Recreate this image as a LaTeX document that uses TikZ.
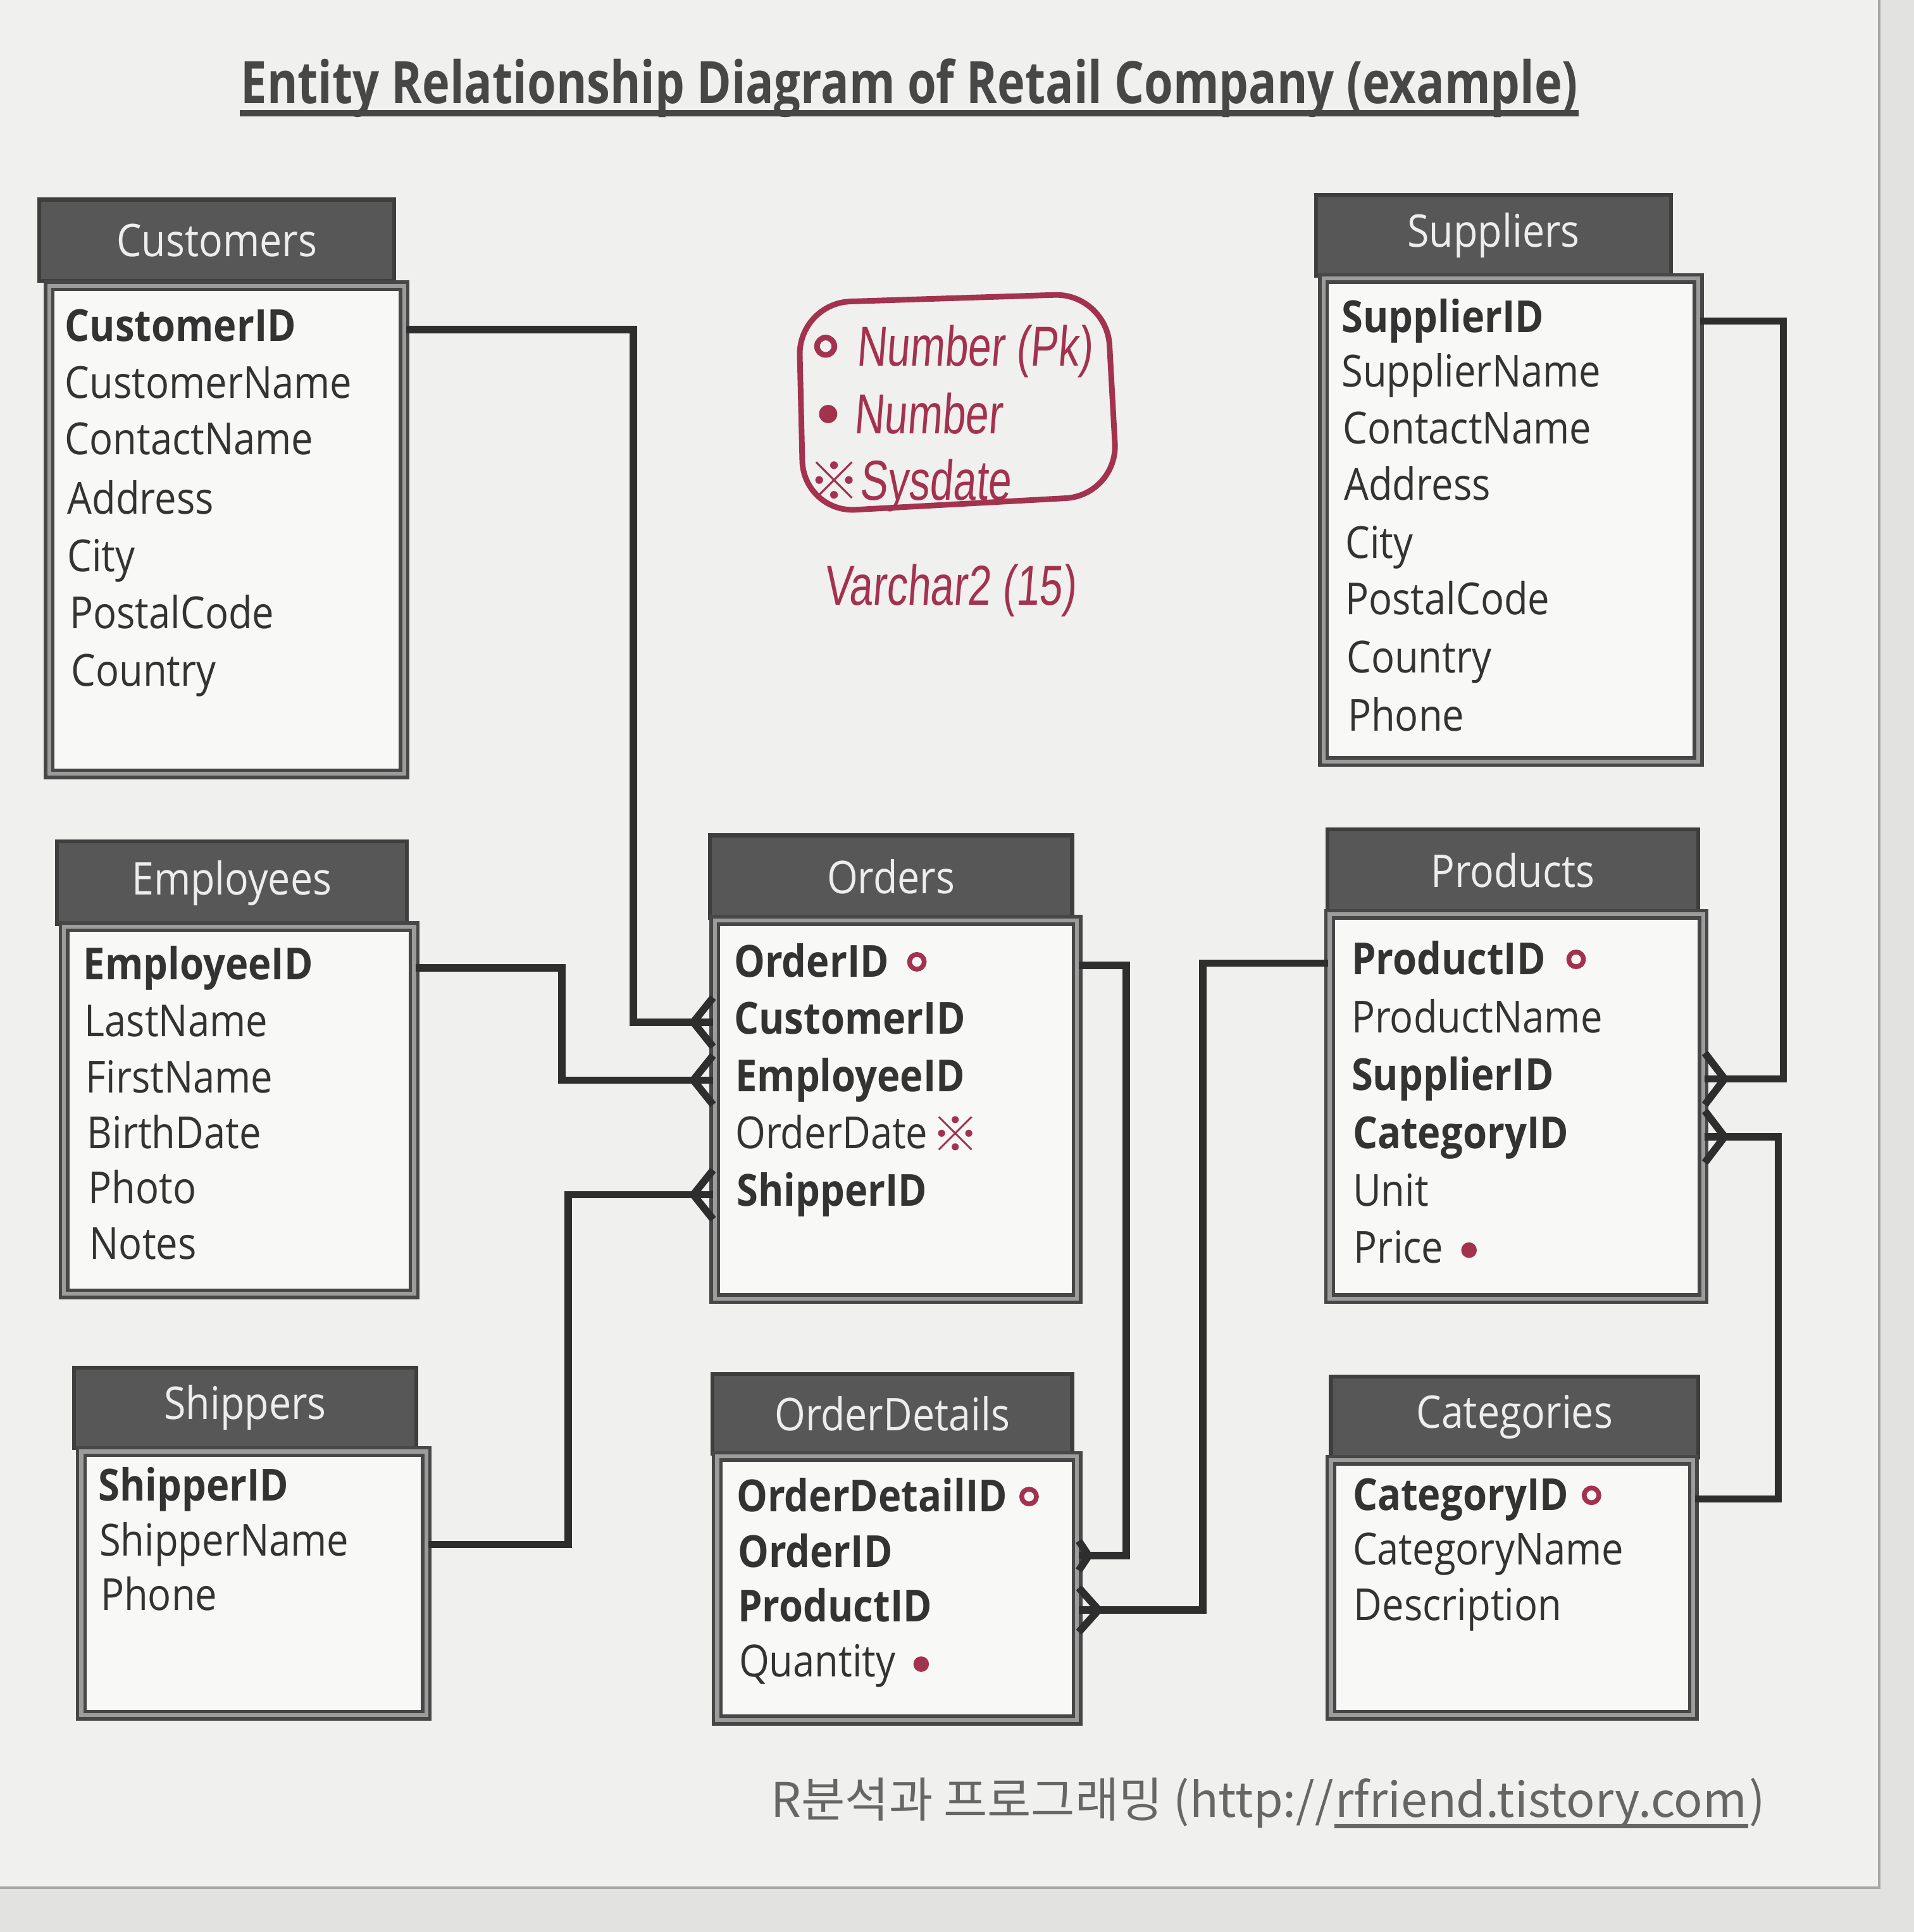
\documentclass[tikz,border=0pt]{standalone}
\usepackage{fontspec}
\setmainfont{Open Sans}[FakeStretch=0.88]
\newfontfamily\krfont{Noto Sans CJK KR}
\newfontfamily\titlefont{Open Sans}[FakeStretch=0.8]
\newfontfamily\handfont{Liberation Sans}[FakeStretch=0.74, FakeSlant=0.08]
\usetikzlibrary{calc,fit}
\definecolor{outerbg}{HTML}{E2E2E0}
\definecolor{paper}{HTML}{F0F0EE}
\definecolor{hdr}{HTML}{575757}
\definecolor{hdrline}{HTML}{3E3E3E}
\definecolor{hdrtext}{HTML}{EDEDED}
\definecolor{ink}{HTML}{333333}
\definecolor{boxline}{HTML}{474747}
\definecolor{boxinner}{HTML}{9C9C9C}
\definecolor{pen}{HTML}{A3324F}
\definecolor{foot}{HTML}{666666}
\newcommand{\fldfont}{\fontsize{10.2}{12}\selectfont}
\newcommand{\hdrfont}{\fontsize{10.4}{12}\selectfont}
\newcommand{\crowL}[2]{\draw[conn] ($(#1)+(0,-#2)$) -- ($(#1)+(-16,0)$) -- ($(#1)+(0,#2)$);}
\newcommand{\crowR}[2]{\draw[conn] ($(#1)+(0,-#2)$) -- ($(#1)+(16,0)$) -- ($(#1)+(0,#2)$);}
\begin{document}
\begin{tikzpicture}[x=0.01cm,y=-0.01cm,
  hdrbox/.style={fill=hdr, draw=hdrline, line width=0.9pt, inner sep=0pt},
  bodybox/.style={fill=white!55!paper, draw=boxline, line width=0.8pt, double=boxinner, double distance=0.9pt, inner sep=0pt},
  hdrtxt/.style={text=hdrtext, font=\hdrfont, inner sep=0pt},
  fld/.style={anchor=base west, inner sep=0pt, text=ink, font=\fldfont},
  conn/.style={draw=ink!90!black, line width=1.7pt, line join=miter},
  pk/.style={draw=pen, line width=1.1pt, circle, inner sep=0pt, minimum size=3.4pt},
  dotm/.style={fill=pen, circle, inner sep=0pt, minimum size=3.6pt},
  hand/.style={text=pen, font=\handfont\fontsize{13}{15}\selectfont, inner sep=0pt, anchor=base west}]
\useasboundingbox (0,0) rectangle (1553,1568);
\fill[outerbg] (0,0) rectangle (1553,1568);
\fill[paper] (0,0) rectangle (1525,1532);
\draw[gray!70, line width=0.6pt] (1525,0) -- (1525,1532) -- (0,1532);

% title
\node[anchor=base, inner sep=0pt, text=ink!90, font=\titlefont\bfseries\fontsize{13.5}{15}\selectfont] (title) at (738,84) {Entity Relationship Diagram of Retail Company (example)};
\draw[ink!90, line width=1.5pt] ($(title.base west)+(0,8)$) -- ($(title.base east)+(0,8)$);

% Customers
\node[hdrbox, fit={(32,162) (320,228)}] (custH) {};
\node[hdrtxt] at (custH.center) {Customers};
\node[bodybox, fit={(40,232) (328,628)}] (custB) {};
\node[fld] (cCustomerID) at (52,277) {\bfseries CustomerID};
\node[fld] (cCustomerName) at (52,323) {CustomerName};
\node[fld] (cContactName) at (52,369) {ContactName};
\node[fld] (cAddress) at (54,417) {Address};
\node[fld] (cCity) at (54,464) {City};
\node[fld] (cPostalCode) at (56,510) {PostalCode};
\node[fld] (cCountry) at (57,557) {Country};

% Employees
\node[hdrbox, fit={(46,683) (330,750)}] (empH) {};
\node[hdrtxt] at (empH.center) {Employees};
\node[bodybox, fit={(52,752) (336,1050)}] (empB) {};
\node[fld] (eEmployeeID) at (67,795) {\bfseries EmployeeID};
\node[fld] (eLastName) at (68,841) {LastName};
\node[fld] (eFirstName) at (69,887) {FirstName};
\node[fld] (eBirthDate) at (70,932) {BirthDate};
\node[fld] (ePhoto) at (71,977) {Photo};
\node[fld] (eNotes) at (72,1022) {Notes};

% Shippers
\node[hdrbox, fit={(60,1110) (338,1175)}] (shipH) {};
\node[hdrtxt] at (shipH.center) {Shippers};
\node[bodybox, fit={(66,1178) (346,1392)}] (shipB) {};
\node[fld] (sShipperID) at (79,1218) {\bfseries ShipperID};
\node[fld] (sShipperName) at (80,1263) {ShipperName};
\node[fld] (sPhone) at (81,1307) {Phone};

% Orders
\node[hdrbox, fit={(576,678) (870,745)}] (ordH) {};
\node[hdrtxt] at (ordH.center) {Orders};
\node[bodybox, fit={(580,747) (874,1054)}] (ordB) {};
\node[fld] (oOrderID) at (595,793) {\bfseries OrderID};
\node[fld] (oCustomerID) at (595,839) {\bfseries CustomerID};
\node[fld] (oEmployeeID) at (596,886) {\bfseries EmployeeID};
\node[fld] (oOrderDate) at (596,932) {OrderDate};
\node[fld] (oShipperID) at (597,979) {\bfseries ShipperID};
\node[pk] at ($(oOrderID.mid east)+(22,-3)$) {};
\node[text=pen, inner sep=0pt, font=\krfont\fontsize{11}{12}\selectfont] at ($(oOrderDate.mid east)+(22,-2)$) {※};

% OrderDetails
\node[hdrbox, fit={(578,1115) (870,1180)}] (odH) {};
\node[hdrtxt] at (odH.center) {OrderDetails};
\node[bodybox, fit={(582,1182) (874,1396)}] (odB) {};
\node[fld] (dOrderDetailID) at (597,1227) {\bfseries OrderDetailID};
\node[fld] (dOrderID) at (598,1272) {\bfseries OrderID};
\node[fld] (dProductID) at (598,1316) {\bfseries ProductID};
\node[fld] (dQuantity) at (599,1361) {Quantity};
\node[pk] at ($(dOrderDetailID.mid east)+(17,-3)$) {};
\node[dotm] at ($(dQuantity.mid east)+(20,-1)$) {};

% Suppliers
\node[hdrbox, fit={(1068,158) (1356,224)}] (supH) {};
\node[hdrtxt] at (supH.center) {Suppliers};
\node[bodybox, fit={(1074,226) (1378,618)}] (supB) {};
\node[fld] (pSupplierID) at (1088,270) {\bfseries SupplierID};
\node[fld] (pSupplierName) at (1088,314) {SupplierName};
\node[fld] (pContactName) at (1089,360) {ContactName};
\node[fld] (pAddress) at (1090,406) {Address};
\node[fld] (pCity) at (1091,453) {City};
\node[fld] (pPostalCode) at (1091,499) {PostalCode};
\node[fld] (pCountry) at (1092,546) {Country};
\node[fld] (pPhone) at (1093,593) {Phone};

% Products
\node[hdrbox, fit={(1077,673) (1378,740)}] (prodH) {};
\node[hdrtxt] at (prodH.center) {Products};
\node[bodybox, fit={(1079,742) (1382,1054)}] (prodB) {};
\node[fld] (rProductID) at (1096,791) {\bfseries ProductID};
\node[fld] (rProductName) at (1096,838) {ProductName};
\node[fld] (rSupplierID) at (1096,885) {\bfseries SupplierID};
\node[fld] (rCategoryID) at (1097,932) {\bfseries CategoryID};
\node[fld] (rUnit) at (1097,979) {Unit};
\node[fld] (rPrice) at (1098,1025) {Price};
\node[pk] at ($(rProductID.mid east)+(24,-3)$) {};
\node[dotm] at ($(rPrice.mid east)+(20,-1)$) {};

% Categories
\node[hdrbox, fit={(1080,1117) (1378,1183)}] (catH) {};
\node[hdrtxt] at (catH.center) {Categories};
\node[bodybox, fit={(1080,1185) (1374,1392)}] (catB) {};
\node[fld] (tCategoryID) at (1097,1226) {\bfseries CategoryID};
\node[fld] (tCategoryName) at (1097,1270) {CategoryName};
\node[fld] (tDescription) at (1098,1315) {Description};
\node[pk] at ($(tCategoryID.mid east)+(18,-3)$) {};

% bend coordinates
\coordinate (v1) at (514,0);
\coordinate (v2) at (456,0);
\coordinate (v3) at (461,0);
\coordinate (v4) at (914,0);
\coordinate (v5) at (976,0);
\coordinate (v6) at (1447,0);
\coordinate (v7) at (1443,0);

% edge points
\coordinate (eoC) at (ordB.west |- oCustomerID.mid);
\coordinate (eoE) at (ordB.west |- oEmployeeID.mid);
\coordinate (eoS) at (ordB.west |- oShipperID.mid);
\coordinate (edO) at (odB.east |- dOrderID.mid);
\coordinate (edP) at (odB.east |- dProductID.mid);
\coordinate (erS) at (prodB.east |- rSupplierID.mid);
\coordinate (erC) at (prodB.east |- rCategoryID.mid);

% connectors
\draw[conn] (custB.east |- cCustomerID.mid) -- (v1 |- cCustomerID.mid) -- (v1 |- eoC) -- (eoC);
\draw[conn] (empB.east |- eEmployeeID.mid) -- (v2 |- eEmployeeID.mid) -- (v2 |- eoE) -- (eoE);
\draw[conn] (shipB.east |- sShipperName.mid) -- (v3 |- sShipperName.mid) -- (v3 |- eoS) -- (eoS);
\draw[conn] (ordB.east |- oOrderID.mid) -- (v4 |- oOrderID.mid) -- (v4 |- edO) -- (edO);
\draw[conn] (prodB.west |- rProductID.mid) -- (v5 |- rProductID.mid) -- (v5 |- edP) -- (edP);
\draw[conn] (supB.east |- pSupplierID.mid) -- (v6 |- pSupplierID.mid) -- (v6 |- erS) -- (erS);
\draw[conn] (catB.east |- tCategoryID.mid) -- (v7 |- tCategoryID.mid) -- (v7 |- erC) -- (erC);

% crow's feet
\crowL{eoC}{20}
\crowL{eoE}{20}
\crowL{eoS}{20}
\draw[conn] ($(edO)+(0,-12)$) -- ($(edO)+(8,0)$) -- ($(edO)+(0,12)$);
\crowR{edP}{18}
\crowR{erS}{21}
\crowR{erC}{21}

% handwritten legend
\draw[pen, line width=1.3pt, rounded corners=12] (648,246) -- (898,238) -- (907,402) -- (652,416) -- cycle;
\node[pk, minimum size=4pt, line width=1.3pt] at (670,281) {};
\node[hand] (hN1) at (694,297) {Number (Pk)};
\node[dotm, minimum size=4.2pt] at (672,336) {};
\node[hand] (hN2) at (692,352) {Number};
\node[text=pen, inner sep=0pt, font=\krfont\fontsize{12}{13}\selectfont] at (677,390) {※};
\node[hand] (hSys) at (697,406) {Sysdate};
\node[hand] (hVar) at (668,491) {Varchar2 (15)};

% footer
\node[anchor=base west, inner sep=0pt, text=foot, font=\krfont\fontsize{11}{13}\selectfont] (footA) at (625,1475) {R분석과 프로그래밍 (http://};
\node[anchor=base west, inner sep=0pt, text=foot, font=\krfont\fontsize{11}{13}\selectfont] (footB) at (footA.base east) {rfriend.tistory.com};
\node[anchor=base west, inner sep=0pt, text=foot, font=\krfont\fontsize{11}{13}\selectfont] (footC) at (footB.base east) {)};
\draw[foot, line width=0.9pt] ($(footB.base west)+(0,7)$) -- ($(footB.base east)+(0,7)$);
\end{tikzpicture}
\end{document}
